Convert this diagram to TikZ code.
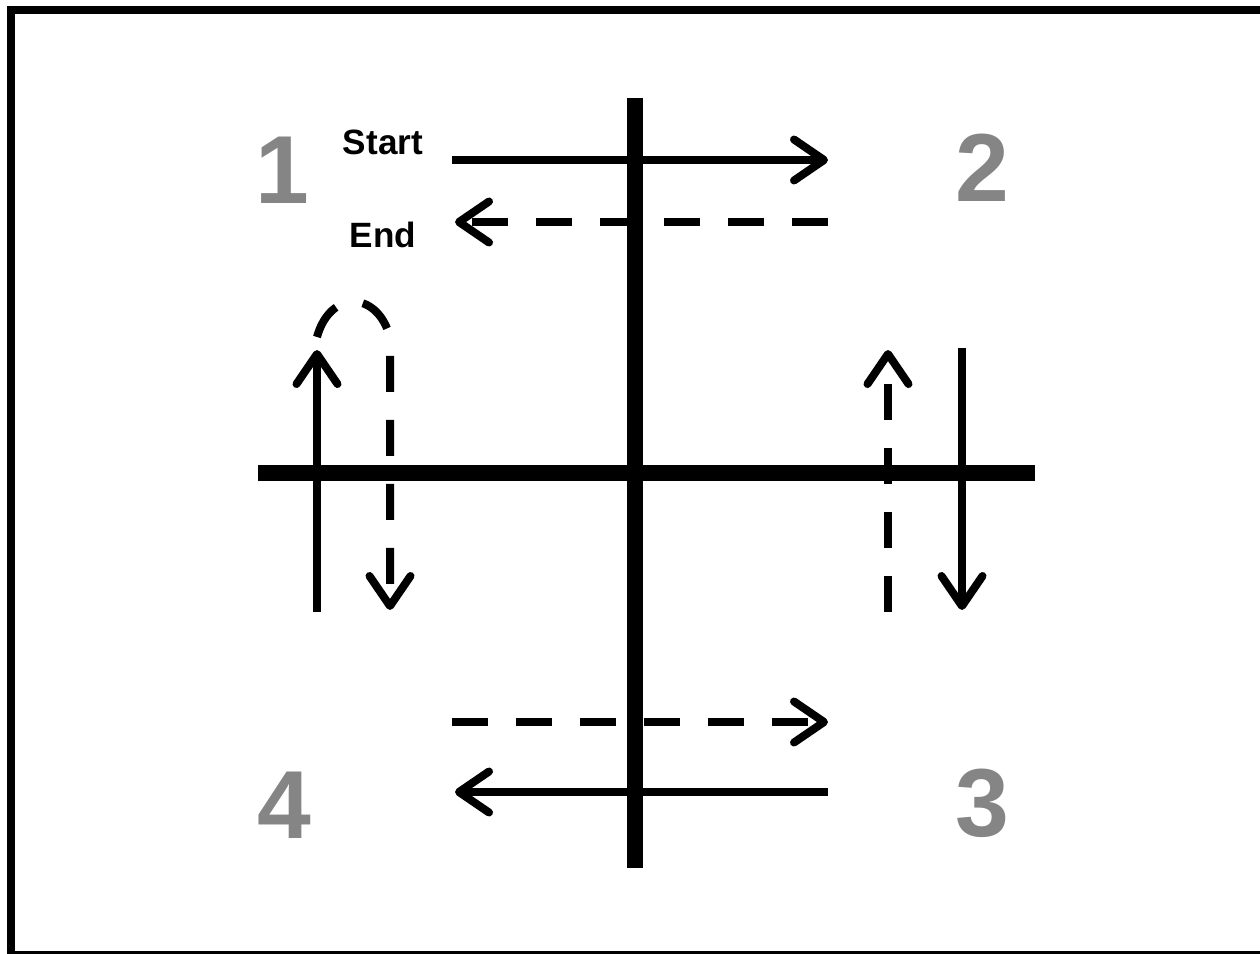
\documentclass[tikz,border=0pt]{standalone}
\usepackage{fontspec}
\setmainfont{Liberation Sans}
\usetikzlibrary{arrows.meta}
\begin{document}
\begin{tikzpicture}[x=0.02cm, y=-0.02cm,
        num/.style   = {font=\fontsize{55}{60}\selectfont\bfseries,
                        text=black!48},
        lbl/.style   = {font=\fontsize{20}{24}\selectfont\bfseries},
        axis/.style  = {line width=0.32cm},
        ln/.style    = {line width=0.16cm},
        arr/.style   = {ln, -{Straight Barb[length=0.6cm, width=0.82cm,
                        line cap=round, line join=round]}},
        dsh/.style   = {dash pattern=on 0.72cm off 0.56cm}
    ]
    \useasboundingbox (0,0) rectangle (1260,953);
    \clip (0,0) rectangle (1260,953);
    \fill[white] (0,0) rectangle (1260,953);
    \draw[line width=0.16cm] (11,10) rectangle (1270,955);

    \node[num] (n1) at (282,170) {1};
    \node[num] (n2) at (982,168) {2};
    \node[num] (n3) at (982,803) {3};
    \node[num] (n4) at (284,805) {4};
    \node[lbl] (start) at (383,142) {Start};
    \node[lbl] (end)   at (383,235) {End};

    \coordinate (vt) at (635,98);   \coordinate (vb) at (635,868);
    \coordinate (hl) at (258,473);  \coordinate (hr) at (1035,473);
    \coordinate (sa) at (452,160);  \coordinate (sb) at (828,160);
    \coordinate (ea) at (828,222);  \coordinate (eb) at (455,222);
    \coordinate (lu1) at (317,612); \coordinate (lu2) at (317,350);
    \coordinate (ld1) at (317,337); \coordinate (ld2) at (390,337);
    \coordinate (ld3) at (390,610);
    \coordinate (rd1) at (962,348); \coordinate (rd2) at (962,610);
    \coordinate (ru1) at (888,612); \coordinate (ru2) at (888,350);
    \coordinate (ba) at (452,722);  \coordinate (bb) at (828,722);
    \coordinate (ca) at (828,792);  \coordinate (cb) at (455,792);

    \draw[axis] (vt) -- (vb);
    \draw[axis] (hl) -- (hr);

    \draw[arr] (sa) -- (sb);
    \draw[arr, dsh] (ea) -- (eb);
    \draw[arr] (lu1) -- (lu2);
    \draw[arr, dsh] (ld1) .. controls (330,290) and (377,290) .. (ld2) -- (ld3);
    \draw[arr] (rd1) -- (rd2);
    \draw[arr, dsh] (ru1) -- (ru2);
    \draw[arr, dsh] (ba) -- (bb);
    \draw[arr] (ca) -- (cb);
\end{tikzpicture}
\end{document}
